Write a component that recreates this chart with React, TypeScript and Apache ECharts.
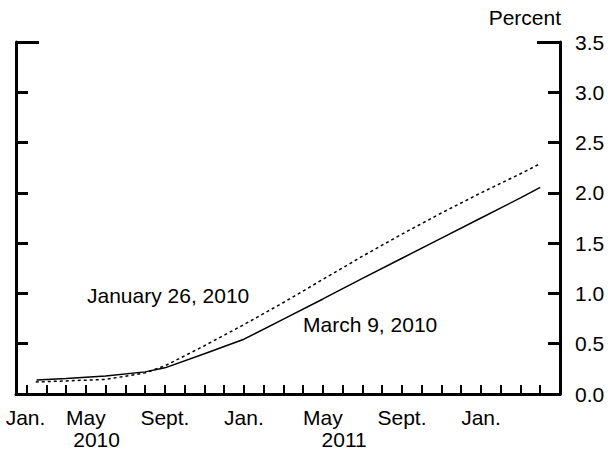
import React, { useEffect, useRef } from "react";
import * as echarts from "echarts";

// x = months since Jan 2010 (0 = Jan 2010)
const solidMonths = [1.5, 3, 5, 7, 8, 10, 12, 14, 16, 18, 20, 22, 24, 26, 27];
const solidValues = [0.14, 0.155, 0.18, 0.22, 0.26, 0.4, 0.545, 0.745, 0.945, 1.15, 1.35, 1.55, 1.75, 1.95, 2.055];
const dashedMonths = [1.46, 3, 5, 7, 8, 10, 12, 14, 16, 18, 20, 22, 24, 26, 27];
const dashedValues = [0.12, 0.13, 0.145, 0.21, 0.28, 0.48, 0.69, 0.91, 1.14, 1.37, 1.59, 1.8, 2.0, 2.19, 2.29];

const monthTicks = Array.from({ length: 27 }, (_, i) => i + 1);
const monthLabelValues = [0.94, 4, 8, 12, 16, 20, 24];
const monthLabelTexts = ["Jan.", "May", "Sept.", "Jan.", "May", "Sept.", "Jan."];
const yearLabelValues = [4.54, 17.07];
const yearLabelTexts = ["2010", "2011"];
const yTicks = [0, 0.5, 1, 1.5, 2, 2.5, 3, 3.5];

const FONT = "Liberation Sans, Arial, sans-serif";
const FS = 21;

export default function App() {
  const ref = useRef<HTMLDivElement>(null);
  useEffect(() => {
    if (!ref.current) return;
    const chart = echarts.init(ref.current, undefined, { renderer: "svg" });
    const xMin = 0.46;
    const xMax = 28;
    const axisBlack = { color: "#000" };
    chart.setOption({
      animation: false,
      backgroundColor: "#fff",
      textStyle: { fontFamily: FONT },
      grid: { left: 16, right: 48, top: 42, bottom: 57, outerBoundsMode: "none" },
      xAxis: [
        {
          type: "value",
          position: "bottom",
          min: xMin,
          max: xMax,
          splitLine: { show: false },
          axisLine: { show: true, lineStyle: { ...axisBlack, width: 3 } },
          axisTick: { show: true, inside: true, length: 9, lineStyle: { ...axisBlack, width: 2 }, customValues: monthTicks },
          axisLabel: {
            show: true,
            customValues: monthLabelValues,
            formatter: (v: number) => {
              const i = monthLabelValues.findIndex((m) => Math.abs(m - v) < 1e-6);
              return i >= 0 ? monthLabelTexts[i] : "";
            },
            color: "#000",
            fontSize: FS,
            fontFamily: FONT,
            margin: 13,
          },
        },
        {
          type: "value",
          position: "bottom",
          min: xMin,
          max: xMax,
          splitLine: { show: false },
          axisLine: { show: false },
          axisTick: { show: false },
          axisLabel: {
            show: true,
            customValues: yearLabelValues,
            formatter: (v: number) => {
              const i = yearLabelValues.findIndex((m) => Math.abs(m - v) < 1e-6);
              return i >= 0 ? yearLabelTexts[i] : "";
            },
            color: "#000",
            fontSize: FS,
            fontFamily: FONT,
            margin: 35,
          },
        },
      ],
      yAxis: [
        {
          type: "value",
          position: "right",
          min: 0,
          max: 3.5,
          interval: 0.5,
          splitLine: { show: false },
          axisLine: { show: true, lineStyle: { ...axisBlack, width: 3 } },
          axisTick: { show: true, inside: true, length: 12, lineStyle: { ...axisBlack, width: 3 }, customValues: yTicks },
          axisLabel: {
            show: true,
            color: "#000",
            fontSize: FS,
            fontFamily: FONT,
            margin: 15,
            formatter: (v: number) => v.toFixed(1),
            padding: [10, 0, 0, 0],
          },
        },
        {
          type: "value",
          position: "left",
          min: 0,
          max: 3.5,
          interval: 0.5,
          splitLine: { show: false },
          axisLine: { show: true, lineStyle: { ...axisBlack, width: 3 } },
          axisTick: { show: true, inside: true, length: 12, lineStyle: { ...axisBlack, width: 3 } },
          axisLabel: { show: false },
        },
        {
          type: "value",
          position: "right",
          min: 0,
          max: 3.5,
          interval: 3.5,
          splitLine: { show: false },
          axisLine: { show: false },
          axisTick: { show: true, inside: true, length: 23, lineStyle: { ...axisBlack, width: 3 } },
          axisLabel: { show: false },
        },
        {
          type: "value",
          position: "left",
          min: 0,
          max: 3.5,
          interval: 3.5,
          splitLine: { show: false },
          axisLine: { show: false },
          axisTick: { show: true, inside: true, length: 23, lineStyle: { ...axisBlack, width: 3 } },
          axisLabel: { show: false },
        },
      ],
      graphic: [
        {
          type: "text",
          right: 47,
          top: 7,
          style: { text: "Percent", fill: "#000", font: `${FS}px ${FONT}` },
        },
        {
          type: "text",
          left: 87,
          top: 285,
          style: { text: "January 26, 2010", fill: "#000", font: `${FS}px ${FONT}` },
        },
        {
          type: "text",
          left: 303,
          top: 314,
          style: { text: "March 9, 2010", fill: "#000", font: `${FS}px ${FONT}` },
        },
      ],
      series: [
        {
          name: "March 9, 2010",
          type: "line",
          xAxisIndex: 0,
          yAxisIndex: 0,
          showSymbol: false,
          lineStyle: { color: "#000", width: 1.5 },
          data: solidMonths.map((m, i) => [m, solidValues[i]]),
        },
        {
          name: "January 26, 2010",
          type: "line",
          xAxisIndex: 0,
          yAxisIndex: 0,
          showSymbol: false,
          lineStyle: { color: "#000", width: 1.5, type: [3, 3] },
          data: dashedMonths.map((m, i) => [m, dashedValues[i]]),
        },
      ],
    });
    return () => chart.dispose();
  }, []);
  return (
    <div
      ref={ref}
      style={{ position: "fixed", left: 0, top: 0, width: 608, height: 451 }}
    />
  );
}
